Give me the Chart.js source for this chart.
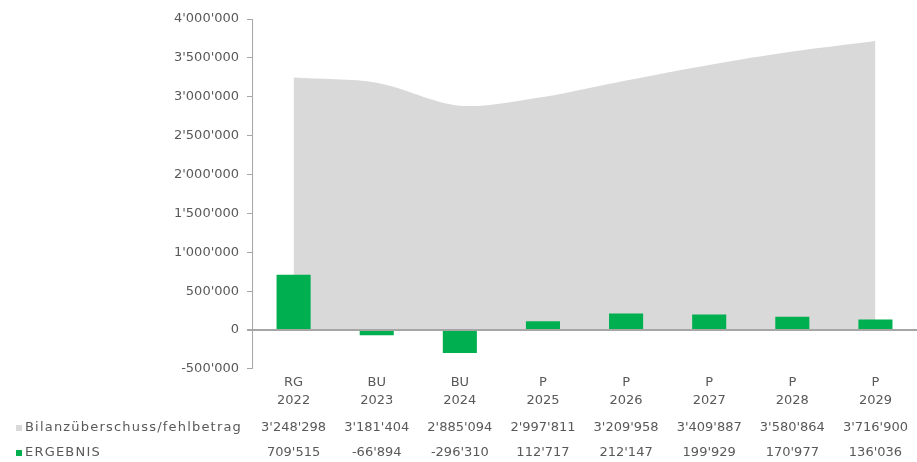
<!DOCTYPE html>
<html>
<head>
<meta charset="utf-8">
<script src="https://cdn.jsdelivr.net/npm/chart.js@4/dist/chart.umd.min.js"></script>
<style>
  html, body { margin: 0; padding: 0; background: #fff; }
  #wrap { width: 917px; height: 462px; }
</style>
</head>
<body>
<div id="wrap"><canvas id="chart"></canvas></div>
<script>
// Kategorien (zweizeilig) und Werte
const typen = ["RG", "BU", "BU", "P", "P", "P", "P", "P"];
const jahre = ["2022", "2023", "2024", "2025", "2026", "2027", "2028", "2029"];
const bilanz = [3248298, 3181404, 2885094, 2997811, 3209958, 3409887, 3580864, 3716900];
const ergebnis = [709515, -66894, -296310, 112717, 212147, 199929, 170977, 136036];
const yTicks = [-500000, 0, 500000, 1000000, 1500000, 2000000, 2500000, 3000000, 3500000, 4000000];

const schrift = "'DejaVu Sans', sans-serif";
const textFarbe = '#595959';
const grau = '#d9d9d9';
const gruen = '#00b050';
const achsFarbe = '#a6a6a6';

function fmt(v) {
    return Math.round(v).toString().replace(/\B(?=(\d{3})+(?!\d))/g, "'");
}

// y-Achsenlinie und Datentabelle unter der x-Achse
const tabelle = {
    id: 'tabelle',
    afterDraw(chart) {
        const ctx = chart.ctx;
        const x = chart.scales.x;
        const a = chart.chartArea;
        ctx.save();
        ctx.strokeStyle = achsFarbe;
        ctx.lineWidth = 1;
        ctx.beginPath();
        ctx.moveTo(a.left + 0.5, a.top);
        ctx.lineTo(a.left + 0.5, a.bottom);
        ctx.stroke();

        const zeilen = [
            { name: 'Bilanzüberschuss/fehlbetrag', farbe: grau, werte: bilanz, y: 428 },
            { name: 'ERGEBNIS', farbe: gruen, werte: ergebnis, y: 453 }
        ];
        ctx.font = '13px ' + schrift;
        ctx.textBaseline = 'middle';
        zeilen.forEach(z => {
            ctx.fillStyle = z.farbe;
            ctx.fillRect(16, z.y - 3, 6, 6);
            ctx.fillStyle = textFarbe;
            ctx.textAlign = 'left';
            ctx.letterSpacing = '1.2px';
            ctx.fillText(z.name, 25, z.y);
            ctx.letterSpacing = '0px';
            ctx.textAlign = 'center';
            z.werte.forEach((v, i) => {
                ctx.fillText(fmt(v), x.getPixelForValue(i), z.y);
            });
        });
        ctx.restore();
    }
};

const ctx = document.getElementById('chart').getContext('2d');
new Chart(ctx, {
    data: {
        labels: typen.map((t, i) => [t, jahre[i]]),
        datasets: [{
            type: 'bar',
            label: 'ERGEBNIS',
            data: ergebnis,
            backgroundColor: gruen,
            categoryPercentage: 1,
            barPercentage: 0.41,
            order: 0
        }, {
            type: 'line',
            label: 'Bilanzüberschuss/fehlbetrag',
            data: bilanz,
            backgroundColor: grau,
            borderWidth: 0,
            pointRadius: 0,
            fill: 'origin',
            tension: 0.3,
            order: 1
        }]
    },
    options: {
        responsive: true,
        maintainAspectRatio: false,
        animation: false,
        layout: { padding: { top: 19, right: 0, bottom: 48, left: 166 } },
        plugins: {
            legend: { display: false },
            tooltip: { enabled: false }
        },
        scales: {
            x: {
                offset: true,
                grid: { display: false, drawTicks: false, tickLength: 0 },
                border: { display: false },
                ticks: {
                    color: textFarbe,
                    font: { family: schrift, size: 13, lineHeight: 1.35 },
                    padding: 5,
                    maxRotation: 0
                }
            },
            y: {
                min: -500000,
                max: 4000000,
                afterBuildTicks: (s) => { s.ticks = yTicks.map(v => ({ value: v })); },
                border: { display: false },
                grid: {
                    z: 1,
                    lineWidth: (c) => c.tick && c.tick.value === 0 ? 2 : 1,
                    color: (c) => c.tick && c.tick.value === 0 ? achsFarbe : 'rgba(0,0,0,0)',
                    tickColor: achsFarbe,
                    tickLength: 5
                },
                ticks: {
                    color: textFarbe,
                    font: { family: schrift, size: 13 },
                    padding: 8,
                    callback: (v) => fmt(v)
                }
            }
        }
    },
    plugins: [tabelle]
});
</script>
</body>
</html>
